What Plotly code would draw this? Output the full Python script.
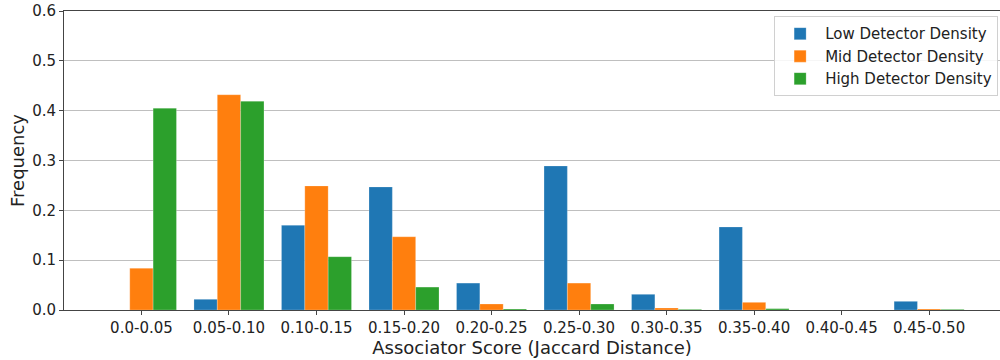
import plotly.graph_objects as go

categories = ["0.0-0.05", "0.05-0.10", "0.10-0.15", "0.15-0.20", "0.20-0.25",
              "0.25-0.30", "0.30-0.35", "0.35-0.40", "0.40-0.45", "0.45-0.50"]
low_density = [0.0, 0.0215, 0.170, 0.247, 0.054, 0.289, 0.0315, 0.1666, 0.0, 0.0174]
mid_density = [0.0837, 0.432, 0.249, 0.147, 0.012, 0.054, 0.004, 0.0154, 0.0, 0.002]
high_density = [0.405, 0.419, 0.107, 0.046, 0.002, 0.012, 0.0013, 0.0027, 0.0, 0.0013]
y_ticks = [0.0, 0.1, 0.2, 0.3, 0.4, 0.5, 0.6]

series = [
    ("Low Detector Density", low_density, "#1f77b4"),
    ("Mid Detector Density", mid_density, "#ff7f0e"),
    ("High Detector Density", high_density, "#2ca02c"),
]

font = "DejaVu Sans, Verdana, sans-serif"
fig = go.Figure()
for name, vals, color in series:
    fig.add_trace(go.Bar(
        x=list(range(len(categories))), y=vals, name=name,
        marker=dict(color=color, line=dict(color="rgba(255,255,255,0.45)", width=0.5)),
    ))

fig.update_layout(
    width=1000, height=360,
    margin=dict(l=64, r=0, t=11, b=50),
    paper_bgcolor="white", plot_bgcolor="white",
    barmode="group", bargap=0.2, bargroupgap=0,
    font=dict(family=font, size=15, color="#222"),
    legend=dict(
        x=0.998, xanchor="right", y=0.982, yanchor="top",
        bgcolor="rgba(255,255,255,0.85)", bordercolor="#d0d0d0", borderwidth=1,
        font=dict(family=font, size=15, color="#222"),
        itemwidth=40, tracegroupgap=0,
    ),
    showlegend=True,
)
fig.update_xaxes(
    tickmode="array", tickvals=list(range(len(categories))), ticktext=categories,
    range=[-0.885, 9.81],
    showgrid=False, zeroline=False,
    showline=True, linecolor="#444", linewidth=1, mirror=True,
    ticks="outside", ticklen=4, tickcolor="#444",
    tickfont=dict(family=font, size=15, color="#222"),
    title=dict(text="Associator Score (Jaccard Distance)", font=dict(family=font, size=18, color="#222"), standoff=3),
)
fig.update_yaxes(
    range=[0, 0.6], tickmode="array", tickvals=y_ticks,
    ticktext=[f"{v:.1f}" for v in y_ticks],
    showgrid=True, gridcolor="rgba(128,128,128,0.5)", gridwidth=1,
    zeroline=False,
    showline=True, linecolor="#444", linewidth=1,
    ticks="outside", ticklen=4, tickcolor="#444",
    tickfont=dict(family=font, size=15, color="#222"),
    title=dict(text="Frequency", font=dict(family=font, size=18, color="#222"), standoff=2),
    layer="above traces",
)

fig.write_html("out.html")
